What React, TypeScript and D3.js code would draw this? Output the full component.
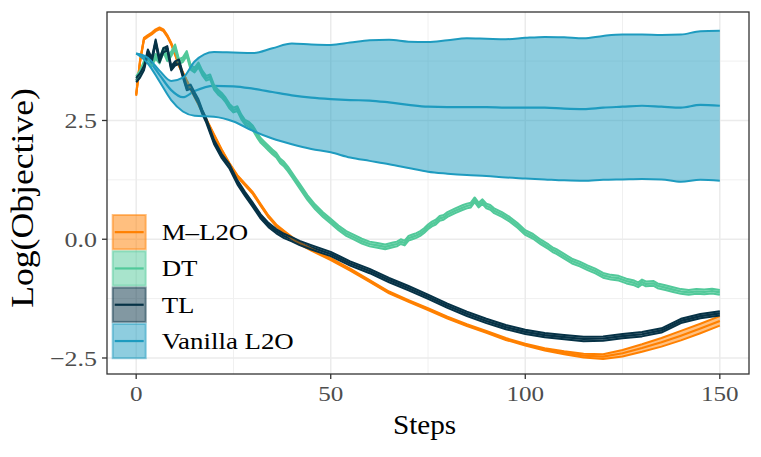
import React from "react";
import * as d3 from "d3";

// ---- data ----
const seriesNames = ["M–L2O", "DT", "TL", "Vanilla L2O"];
const seriesColors = ["#FF8000", "#52C99A", "#063246", "#1E9BBF"];

const xTicks = [0, 50, 100, 150];
const xMinor = [25, 75, 125];
const yTicks = [-2.5, 0, 2.5];
const yMinor = [-1.25, 1.25, 3.75];

const vanillaSteps = [0, 3, 6, 9, 12, 15, 20, 25, 30, 35, 40, 45, 50, 55, 60, 65, 70, 75, 80, 85, 90, 95, 100, 105, 110, 115, 120, 125, 130, 135, 140, 145, 150];
const vanillaMean = [3.91, 3.78, 3.46, 3.14, 2.99, 3.12, 3.23, 3.22, 3.17, 3.1, 3.03, 2.98, 2.95, 2.93, 2.92, 2.88, 2.83, 2.79, 2.78, 2.78, 2.78, 2.77, 2.77, 2.77, 2.75, 2.74, 2.77, 2.79, 2.81, 2.79, 2.77, 2.83, 2.81];
const vanillaLo = [3.91, 3.7, 3.32, 2.93, 2.69, 2.6, 2.58, 2.48, 2.28, 2.12, 2.0, 1.9, 1.83, 1.72, 1.65, 1.58, 1.5, 1.42, 1.38, 1.35, 1.33, 1.3, 1.28, 1.26, 1.24, 1.23, 1.25, 1.26, 1.27, 1.26, 1.21, 1.25, 1.23];
const vanillaHi = [3.91, 3.82, 3.55, 3.33, 3.4, 3.74, 3.94, 3.93, 3.92, 4.02, 4.12, 4.1, 4.09, 4.14, 4.19, 4.2, 4.16, 4.15, 4.19, 4.23, 4.22, 4.21, 4.24, 4.26, 4.25, 4.23, 4.28, 4.31, 4.31, 4.3, 4.31, 4.38, 4.39];

const ml2oSteps = [0, 1, 2, 3, 4, 5, 6, 7, 8, 9, 10, 11, 12, 13, 14, 16, 18, 20, 22, 24, 26, 28, 30, 32, 34, 36, 38, 40, 42, 45, 50, 55, 60, 65, 70, 75, 80, 85, 90, 95, 100, 105, 110, 115, 120, 125, 130, 135, 140, 145, 150];
const ml2oMean = [3.04, 3.75, 4.22, 4.28, 4.33, 4.4, 4.44, 4.4, 4.28, 4.12, 3.9, 3.66, 3.5, 3.33, 3.17, 2.85, 2.52, 2.19, 1.87, 1.58, 1.33, 1.15, 0.97, 0.72, 0.48, 0.29, 0.16, 0.03, -0.09, -0.22, -0.42, -0.64, -0.88, -1.12, -1.3, -1.47, -1.65, -1.81, -1.95, -2.1, -2.22, -2.32, -2.39, -2.45, -2.47, -2.4, -2.29, -2.17, -2.03, -1.88, -1.72];
const ml2oSpread = [0.02, 0.02, 0.02, 0.02, 0.02, 0.02, 0.02, 0.02, 0.02, 0.02, 0.02, 0.02, 0.02, 0.02, 0.02, 0.02, 0.02, 0.02, 0.02, 0.02, 0.02, 0.02, 0.02, 0.02, 0.02, 0.02, 0.02, 0.02, 0.02, 0.02, 0.02, 0.02, 0.02, 0.02, 0.02, 0.02, 0.02, 0.02, 0.02, 0.02, 0.02, 0.025, 0.03, 0.04, 0.05, 0.07, 0.08, 0.09, 0.1, 0.1, 0.1];

const dtSteps = [0, 1, 2, 3, 4, 5, 6, 7, 8, 9, 10, 11, 12, 13, 14, 15, 16, 17, 18, 19, 20, 21, 22, 23, 24, 25, 26, 27, 28, 29, 30, 31, 32, 33, 34, 35, 36, 37, 38, 39, 40, 41, 42, 43, 44, 46, 48, 50, 52, 54, 56, 58, 60, 62, 64, 66, 67, 68, 69, 70, 71, 72, 73, 74, 75, 76, 77, 78, 79, 80, 82, 84, 85, 86, 87, 88, 89, 90, 91, 92, 94, 96, 98, 100, 102, 104, 106, 107, 108, 110, 112, 114, 116, 118, 120, 122, 124, 126, 128, 129, 130, 131, 133, 134, 136, 138, 140, 142, 144, 146, 148, 150];
const dtMean = [3.38, 3.5, 3.7, 3.85, 3.7, 3.85, 3.75, 3.98, 3.8, 3.9, 4.05, 3.74, 3.78, 3.91, 3.62, 3.56, 3.67, 3.5, 3.39, 3.42, 3.2, 3.1, 3.03, 2.93, 2.8, 2.72, 2.75, 2.58, 2.46, 2.42, 2.34, 2.2, 2.08, 2.0, 1.92, 1.84, 1.77, 1.65, 1.58, 1.48, 1.36, 1.24, 1.12, 1.0, 0.88, 0.68, 0.52, 0.38, 0.24, 0.12, 0.04, -0.04, -0.1, -0.13, -0.16, -0.12, -0.1, -0.05, -0.08, 0.02, 0.05, 0.08, 0.12, 0.18, 0.26, 0.32, 0.36, 0.44, 0.46, 0.52, 0.6, 0.67, 0.7, 0.72, 0.83, 0.72, 0.79, 0.7, 0.67, 0.6, 0.52, 0.42, 0.29, 0.14, 0.06, -0.06, -0.16, -0.22, -0.26, -0.36, -0.46, -0.52, -0.6, -0.67, -0.76, -0.8, -0.82, -0.88, -0.92, -0.96, -0.9, -0.94, -0.93, -0.98, -1.02, -1.06, -1.1, -1.12, -1.1, -1.11, -1.09, -1.12];
const dtSpread = 0.05;

const tlSteps = [0, 1, 2, 3, 4, 5, 6, 7, 8, 9, 10, 11, 12, 13, 14, 15, 16, 17, 18, 20, 22, 24, 26, 28, 30, 32, 34, 36, 38, 40, 42, 45, 50, 55, 60, 65, 70, 75, 80, 85, 90, 95, 100, 105, 110, 115, 120, 125, 130, 135, 140, 145, 150];
const tlMean = [3.35, 3.45, 3.6, 3.95, 3.77, 4.16, 3.77, 3.98, 4.02, 3.6, 3.7, 3.74, 3.45, 3.18, 3.21, 3.05, 2.9, 2.68, 2.5, 2.05, 1.75, 1.53, 1.2, 0.95, 0.72, 0.48, 0.3, 0.17, 0.07, 0.0, -0.08, -0.17, -0.31, -0.51, -0.67, -0.86, -1.03, -1.21, -1.4, -1.57, -1.72, -1.85, -1.95, -2.02, -2.06, -2.1, -2.09, -2.04, -2.0, -1.92, -1.72, -1.62, -1.56];
const tlSpread = 0.045;

// ---- layout ----
const W = 761;
const H = 457;
const panel = { left: 107, right: 749, top: 12, bottom: 374 };
const FONT = "'Liberation Serif', 'Times New Roman', serif";

type Pt = { s: number; m: number; lo: number; hi: number };

function build(steps: number[], mean: number[], lo: (i: number) => number, hi: (i: number) => number): Pt[] {
  return steps.map((s, i) => ({ s, m: mean[i], lo: lo(i), hi: hi(i) }));
}

const seriesData: Pt[][] = [
  build(ml2oSteps, ml2oMean, (i) => ml2oMean[i] - ml2oSpread[i], (i) => ml2oMean[i] + ml2oSpread[i]),
  build(dtSteps, dtMean, (i) => dtMean[i] - dtSpread, (i) => dtMean[i] + dtSpread),
  build(tlSteps, tlMean, (i) => tlMean[i] - tlSpread, (i) => tlMean[i] + tlSpread),
  build(vanillaSteps, vanillaMean, (i) => vanillaLo[i], (i) => vanillaHi[i]),
];

export default function App() {
  const x = d3.scaleLinear().domain([-7.5, 157.5]).range([panel.left, panel.right]);
  const y = d3.scaleLinear().domain([-2.837, 4.784]).range([panel.bottom, panel.top]);

  const curves = [d3.curveLinear, d3.curveLinear, d3.curveLinear, d3.curveMonotoneX];

  const lineOf = (k: number, acc: (p: Pt) => number) =>
    d3.line<Pt>().x((p) => x(p.s)).y((p) => y(acc(p))).curve(curves[k]);
  const areaOf = (k: number) =>
    d3.area<Pt>().x((p) => x(p.s)).y0((p) => y(p.lo)).y1((p) => y(p.hi)).curve(curves[k]);

  const keyX = 111.7;
  const keyW = 35;
  const keyTop = 214;
  const keyH = 36.3;

  return (
    <svg width={W} height={H} style={{ position: "absolute", left: 0, top: 0, background: "#fff" }}>
      <rect x={0} y={0} width={W} height={H} fill="#fff" />
      {/* grid */}
      <g>
        {xMinor.map((t) => (
          <line key={"xm" + t} x1={x(t)} x2={x(t)} y1={panel.top} y2={panel.bottom} stroke="#F0F0F0" strokeWidth={1} />
        ))}
        {yMinor.map((t) => (
          <line key={"ym" + t} x1={panel.left} x2={panel.right} y1={y(t)} y2={y(t)} stroke="#F0F0F0" strokeWidth={1} />
        ))}
        {xTicks.map((t) => (
          <line key={"xg" + t} x1={x(t)} x2={x(t)} y1={panel.top} y2={panel.bottom} stroke="#EBEBEB" strokeWidth={1.5} />
        ))}
        {yTicks.map((t) => (
          <line key={"yg" + t} x1={panel.left} x2={panel.right} y1={y(t)} y2={y(t)} stroke="#EBEBEB" strokeWidth={1.5} />
        ))}
      </g>
      {/* mean lines */}
      <g>
        {seriesData.map((d, k) => (
          <path key={"l" + k} d={lineOf(k, (p) => p.m)(d) || ""} fill="none" stroke={seriesColors[k]} strokeWidth={2.2} strokeLinejoin="round" />
        ))}
      </g>
      {/* ribbons */}
      <g>
        {seriesData.map((d, k) => (
          <g key={"r" + k}>
            <path d={areaOf(k)(d) || ""} fill={seriesColors[k]} fillOpacity={0.5} stroke="none" />
            <path d={lineOf(k, (p) => p.lo)(d) || ""} fill="none" stroke={seriesColors[k]} strokeWidth={2} strokeLinejoin="round" />
            <path d={lineOf(k, (p) => p.hi)(d) || ""} fill="none" stroke={seriesColors[k]} strokeWidth={2} strokeLinejoin="round" />
          </g>
        ))}
      </g>
      {/* panel border */}
      <rect x={panel.left} y={panel.top} width={panel.right - panel.left} height={panel.bottom - panel.top} fill="none" stroke="#333333" strokeWidth={1.3} />
      {/* axes ticks */}
      <g>
        {xTicks.map((t) => (
          <g key={"xt" + t}>
            <line x1={x(t)} x2={x(t)} y1={panel.bottom} y2={panel.bottom + 5} stroke="#333333" strokeWidth={1.3} />
            <text transform={`translate(${x(t)},${401}) scale(1.14,1)`} textAnchor="middle" fontFamily={FONT} fontSize={22} fill="#4D4D4D">
              {String(t)}
            </text>
          </g>
        ))}
        {yTicks.map((t) => (
          <g key={"yt" + t}>
            <line x1={panel.left - 5} x2={panel.left} y1={y(t)} y2={y(t)} stroke="#333333" strokeWidth={1.3} />
            <text transform={`translate(${97},${y(t) + 7.8}) scale(1.18,1)`} textAnchor="end" fontFamily={FONT} fontSize={22} fill="#4D4D4D">
              {t < 0 ? "\u2212" + Math.abs(t).toFixed(1) : t.toFixed(1)}
            </text>
          </g>
        ))}
      </g>
      {/* axis titles */}
      <text transform={`translate(${424.5},${434}) scale(1.08,1)`} textAnchor="middle" fontFamily={FONT} fontSize={27} fill="#000">
        Steps
      </text>
      <text transform={`translate(${33},${198}) rotate(-90) scale(1.15,1)`} textAnchor="middle" fontFamily={FONT} fontSize={31} fill="#000">
        Log(Objective)
      </text>
      {/* legend */}
      <g>
        {seriesNames.map((name, k) => {
          const top = keyTop + k * keyH;
          const cy = top + keyH / 2;
          return (
            <g key={"lg" + k}>
              <rect x={keyX + 1} y={top + 1} width={keyW - 2} height={keyH - 2} fill={seriesColors[k]} fillOpacity={0.5} stroke={seriesColors[k]} strokeOpacity={0.5} strokeWidth={2} />
              <line x1={keyX + 3} x2={keyX + keyW - 3} y1={cy} y2={cy} stroke={seriesColors[k]} strokeWidth={2.2} />
              <text transform={`translate(${161.7},${cy + 8}) scale(1.12,1)`} fontFamily={FONT} fontSize={24} fill="#000">
                {name}
              </text>
            </g>
          );
        })}
      </g>
    </svg>
  );
}
